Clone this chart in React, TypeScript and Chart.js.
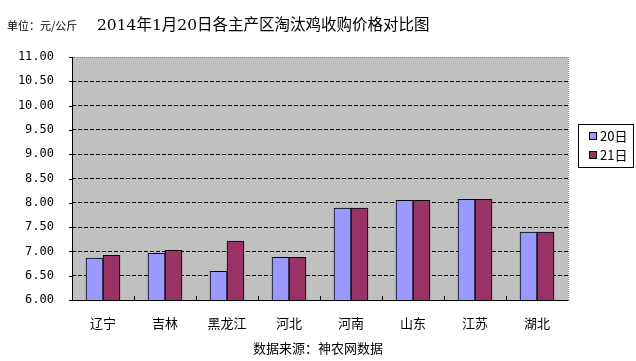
import React, { useEffect, useRef } from "react";
import { Chart, registerables } from "chart.js";

Chart.register(...registerables);

const categories = ["辽宁", "吉林", "黑龙江", "河北", "河南", "山东", "江苏", "湖北"];
const series20 = [6.86, 6.96, 6.59, 6.88, 7.89, 8.05, 8.07, 7.40];
const series21 = [6.92, 7.02, 7.21, 6.88, 7.89, 8.05, 8.07, 7.40];
const seriesNames = ["20日", "21日"];
const seriesColors = ["#9999FF", "#993366"];
const yMin = 6;
const yMax = 11;
const yStep = 0.5;
const unitText = "单位：元/公斤";
const titleText = "2014年1月20日各主产区淘汰鸡收购价格对比图";
const sourceText = "数据来源：神农网数据";

const cjk = '"Noto Sans CJK SC", "Noto Sans", sans-serif';

const plotDecor = {
  id: "plotDecor",
  beforeDraw(chart: any) {
    const { ctx, chartArea } = chart;
    ctx.save();
    ctx.fillStyle = "#C0C0C0";
    ctx.fillRect(chartArea.left, chartArea.top, chartArea.right - chartArea.left, chartArea.bottom - chartArea.top);
    ctx.restore();
  },
  afterDatasetsDraw(chart: any) {
    const { ctx, chartArea, scales } = chart;
    const { left, right, top, bottom } = chartArea;
    ctx.save();
    ctx.strokeStyle = "#808080";
    ctx.lineWidth = 1;
    ctx.setLineDash([1, 1]);
    ctx.beginPath();
    ctx.moveTo(left, top + 0.5);
    ctx.lineTo(right + 0.5, top + 0.5);
    ctx.lineTo(right + 0.5, bottom);
    ctx.stroke();
    ctx.setLineDash([]);
    ctx.strokeStyle = "#000";
    ctx.beginPath();
    ctx.moveTo(left + 0.5, top);
    ctx.lineTo(left + 0.5, bottom + 0.5);
    ctx.lineTo(right + 0.5, bottom + 0.5);
    ctx.stroke();
    const xs = scales.x;
    const n = categories.length;
    const w = (right - left) / n;
    ctx.beginPath();
    for (let i = 1; i < n; i++) {
      const x = Math.round(xs.getPixelForValue(i) - w / 2) + 0.5;
      ctx.moveTo(x, bottom);
      ctx.lineTo(x, bottom - 4);
    }
    ctx.stroke();
    const ys = scales.y;
    ctx.beginPath();
    for (let v = yMin; v <= yMax + 1e-9; v += yStep) {
      const y = Math.round(ys.getPixelForValue(v)) + 0.5;
      ctx.moveTo(left - 3, y);
      ctx.lineTo(left, y);
    }
    ctx.stroke();
    ctx.restore();
  },
  afterDraw(chart: any) {
    const { ctx } = chart;
    ctx.save();
    const bx = 578, by = 124, bw = 55, bh = 43;
    ctx.fillStyle = "#fff";
    ctx.fillRect(bx, by, bw, bh);
    ctx.strokeStyle = "#000";
    ctx.lineWidth = 1;
    ctx.strokeRect(bx + 0.5, by + 0.5, bw, bh);
    ctx.font = `13px ${cjk}`;
    ctx.textBaseline = "middle";
    ctx.textAlign = "left";
    seriesNames.forEach((name, i) => {
      const cy = 136 + i * 19;
      ctx.fillStyle = seriesColors[i];
      ctx.fillRect(589, cy - 4, 7, 7);
      ctx.strokeStyle = "#000";
      ctx.strokeRect(589.5, cy - 3.5, 7, 7);
      ctx.fillStyle = "#000";
      ctx.fillText(name, 600, cy);
    });
    ctx.restore();
  },
};

export default function App() {
  const ref = useRef<HTMLCanvasElement>(null);
  useEffect(() => {
    if (!ref.current) return;
    const chart = new Chart(ref.current, {
      type: "bar",
      data: {
        labels: categories,
        datasets: [
          { label: seriesNames[0], data: series20, backgroundColor: seriesColors[0], borderColor: "#000", borderWidth: 1, barThickness: 17 },
          { label: seriesNames[1], data: series21, backgroundColor: seriesColors[1], borderColor: "#000", borderWidth: 1, barThickness: 17 },
        ],
      },
      options: {
        responsive: false,
        animation: false,
        layout: { padding: { top: 57, right: 68, left: 0, bottom: 0 } },
        plugins: { legend: { display: false }, title: { display: false }, tooltip: { enabled: false } },
        scales: {
          x: {
            grid: { display: false, drawTicks: false },
            border: { display: false },
            ticks: { color: "#000", font: { family: cjk, size: 13 }, padding: 15 },
            afterFit: (s: any) => { s.height = 61; },
          },
          y: {
            min: yMin,
            max: yMax,
            grid: {
              drawTicks: false,
              color: (c: any) => (c.tick && (c.tick.value === yMin || c.tick.value === yMax) ? "rgba(0,0,0,0)" : "#000"),
              lineWidth: 1,
            },
            border: { display: false, dash: [4, 2] },
            ticks: {
              stepSize: yStep,
              color: "#000",
              font: { family: '"DejaVu Sans Mono", monospace', size: 12 },
              padding: 18,
              callback: (v: any) => Number(v).toFixed(2),
            },
            afterFit: (s: any) => { s.width = 72; },
          },
        },
      },
      plugins: [plotDecor],
    });
    return () => chart.destroy();
  }, []);

  return (
    <div style={{ position: "absolute", left: 0, top: 0, width: 636, height: 361, background: "#fff", overflow: "hidden" }}>
      <canvas ref={ref} width={636} height={361} style={{ position: "absolute", left: 0, top: 0 }} />
      <div style={{ position: "absolute", left: 7, top: 16, fontFamily: cjk, fontSize: 11, color: "#000", whiteSpace: "nowrap", lineHeight: "18px" }}>{unitText}</div>
      <div style={{ position: "absolute", left: 97, top: 14, fontFamily: '"DejaVu Serif", "Noto Sans CJK SC", serif', fontSize: 15.5, color: "#000", whiteSpace: "nowrap", lineHeight: "22px" }}>{titleText}</div>
      <div style={{ position: "absolute", left: 0, width: 636, top: 339, textAlign: "center", fontFamily: cjk, fontSize: 13, color: "#000", whiteSpace: "nowrap", lineHeight: "18px" }}>{sourceText}</div>
    </div>
  );
}
